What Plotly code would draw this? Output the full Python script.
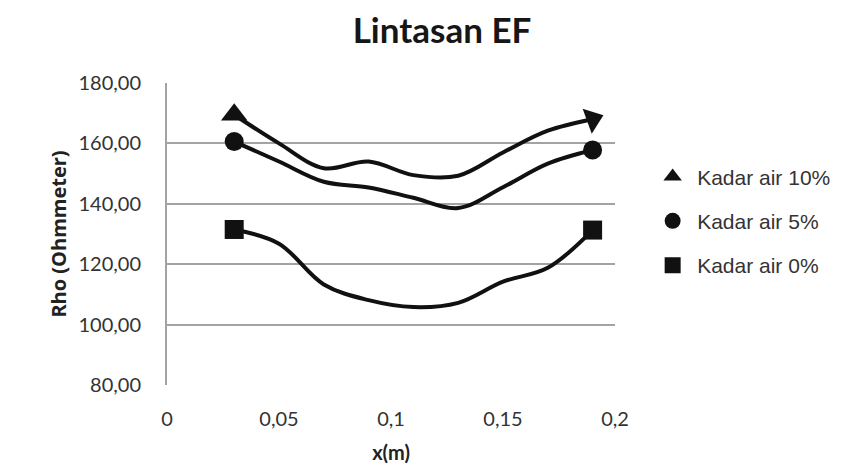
import plotly.graph_objects as go

x_vals = [0.03, 0.05, 0.07, 0.09, 0.11, 0.13, 0.15, 0.17, 0.19]
kadar_10 = [169.5, 160.0, 151.8, 154.0, 149.5, 149.3, 157.0, 164.2, 168.0]
kadar_5 = [160.6, 154.0, 147.3, 145.4, 142.0, 138.6, 145.5, 153.3, 157.8]
kadar_0 = [131.5, 126.8, 113.3, 108.1, 105.8, 107.2, 114.2, 118.8, 131.3]

series_names = ["Kadar air 10%", "Kadar air 5%", "Kadar air 0%"]
x_tickvals = [0, 0.05, 0.1, 0.15, 0.2]
x_ticktext = ["0", "0,05", "0,1", "0,15", "0,2"]
y_tickvals = [80, 100, 120, 140, 160, 180]

INK = "#111111"
TXT = "#333333"
TICKFONT = "Lato"

# page body has an 8px margin; figure is sized/offset to compensate
W, H = 856, 457

fig = go.Figure()

specs = [
    (kadar_10, "triangle-up", 23),
    (kadar_5, "circle", 19),
    (kadar_0, "square", 19),
]

for (vals, sym, sz), name in zip(specs, series_names):
    fig.add_trace(go.Scatter(
        x=x_vals, y=vals, mode="lines", name=name,
        line=dict(color=INK, width=4, shape="spline", smoothing=1.0),
        showlegend=False,
    ))
    end_angle = 70 if sym == "triangle-up" else 0
    fig.add_trace(go.Scatter(
        x=[x_vals[0], x_vals[-1]], y=[vals[0], vals[-1]], mode="markers",
        name=name,
        marker=dict(symbol=sym, size=sz, color=INK, opacity=1,
                    angle=[0, end_angle], line=dict(width=0)),
        showlegend=False, cliponaxis=False,
    ))
    fig.add_trace(go.Scatter(
        x=[None], y=[None], mode="markers", name=name,
        marker=dict(symbol=sym, size=sz, color=INK),
        legendgroup=name, showlegend=True,
    ))

fig.update_layout(
    width=W, height=H,
    margin=dict(l=159, r=W - 607, t=75, b=H - 377, autoexpand=False),
    paper_bgcolor="white", plot_bgcolor="white",
    separators=", ",
    font=dict(family=TICKFONT, color=TXT, size=20),
    title=dict(text="<b>Lintasan EF</b>", x=434 / W, xref="container",
               xanchor="center", y=1 - 23 / H, yref="container",
               yanchor="middle", font=dict(size=35, family=TICKFONT, color="#161616")),
    legend=dict(x=1.074, y=0.757, xanchor="left", yanchor="top",
                font=dict(size=21, family="Liberation Sans", color=TXT),
                tracegroupgap=14, itemwidth=39, bgcolor="rgba(0,0,0,0)"),
    xaxis=dict(range=[0, 0.2], tickvals=x_tickvals, ticktext=x_ticktext,
               showgrid=False, zeroline=False, showline=False, automargin=False,
               ticks="", ticklabelstandoff=20,
               tickfont=dict(size=20, family=TICKFONT, color=TXT),
               title=dict(text="<b>x(m)</b>",
                          font=dict(size=20, family=TICKFONT, color="#222222"),
                          standoff=16)),
    yaxis=dict(range=[80, 180], tickvals=y_tickvals, tickformat=".2f",
               showgrid=True, gridcolor="#a3a3a3", gridwidth=2, automargin=False,
               zeroline=False, showline=True, linecolor="#a3a3a3", linewidth=2,
               ticks="", ticklabelstandoff=20,
               tickfont=dict(size=20, family=TICKFONT, color=TXT),
               title=dict(text="<b>Rho (Ohmmeter)</b>",
                          font=dict(size=20, family="Open Sans", color="#222222"),
                          standoff=6)),
)

fig.write_html("out.html")
